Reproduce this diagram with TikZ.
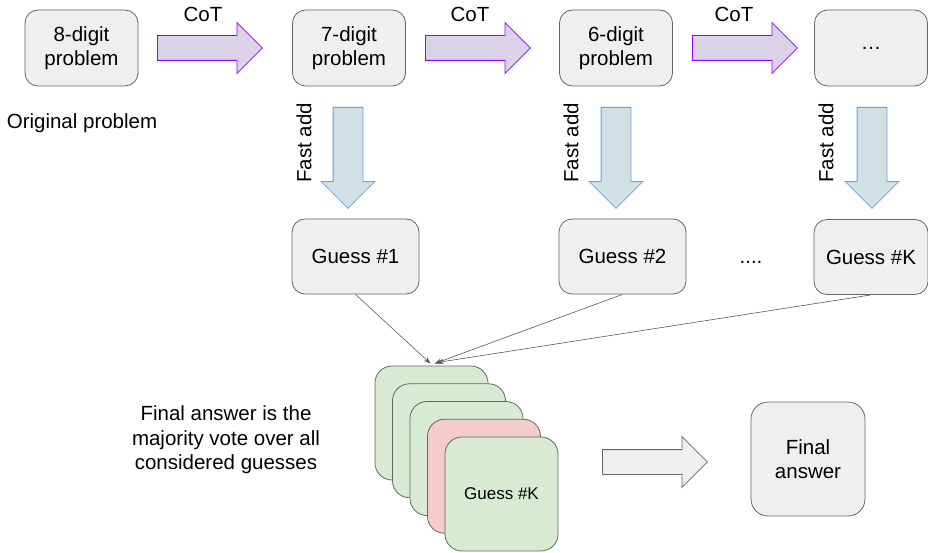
\documentclass[tikz,border=0pt]{standalone}
\usepackage{fontspec}
\setmainfont{Liberation Sans}
\usetikzlibrary{shapes.arrows,arrows.meta}

\definecolor{boxgray}{HTML}{EFEFEF}
\definecolor{edgegray}{HTML}{666666}
\definecolor{cotfill}{HTML}{D9D2E9}
\definecolor{cotedge}{HTML}{9900FF}
\definecolor{addfill}{HTML}{D0E0E3}
\definecolor{addedge}{HTML}{6D9EEB}
\definecolor{cardgreen}{HTML}{D9EAD3}
\definecolor{cardred}{HTML}{F4CCCC}
\definecolor{linegray}{HTML}{595959}

\begin{document}
\begin{tikzpicture}[
  x=1pt, y=-1pt,
  every node/.style={font=\fontsize{20.5}{24.5}\selectfont, text=black},
  probbox/.style={draw=edgegray, fill=boxgray, line width=0.8pt, rounded corners=13pt,
    minimum width=113pt, minimum height=76pt, align=center, inner sep=0pt},
  guessbox/.style={probbox, minimum width=127pt, minimum height=75pt},
  card/.style={draw=edgegray, fill=cardgreen, line width=0.8pt, rounded corners=17pt,
    minimum width=113pt, minimum height=114pt, inner sep=0pt},
  fatarrow/.style={single arrow, draw, line width=0.8pt, minimum height=105pt,
    inner xsep=0pt, inner ysep=12pt, single arrow head extend=13pt, anchor=tail},
  cotarrow/.style={fatarrow, fill=cotfill, draw=cotedge},
  addarrow/.style={fatarrow, fill=addfill, draw=addedge, rotate=-90,
    minimum height=101pt, inner ysep=14.5pt, single arrow head extend=12pt},
  vote/.style={draw=linegray, line width=0.6pt, -{Stealth[length=7pt,width=5pt]}}
]
\useasboundingbox (0,0) rectangle (928,553);

% problems along the chain of thought
\node[probbox] (p8) at (81.5,48) {8-digit\\problem};
\node[probbox] (p7) at (349,48) {7-digit\\problem};
\node[probbox] (p6) at (616,48) {6-digit\\problem};
\node[probbox] (pk) at (871,48) {\raisebox{-0.3ex}{\ldots}};
\node (orig) at (82,123) {Original problem};

\node[cotarrow] (cot1) at (157,48) {};
\node[cotarrow] (cot2) at (425,48) {};
\node[cotarrow] (cot3) at (692,48) {};
\node (cotl1) at (203,14) {CoT};
\node (cotl2) at (470,14) {CoT};
\node (cotl3) at (734,14) {CoT};

% fast add to guesses
\node[addarrow] (add1) at (348,107) {};
\node[addarrow] (add2) at (616,107) {};
\node[addarrow] (add3) at (872,107) {};
\node[rotate=90] (addl1) at (304,143) {Fast add};
\node[rotate=90] (addl2) at (571,143) {Fast add};
\node[rotate=90] (addl3) at (826,143) {Fast add};

\node[guessbox] (g1) at (355.5,256.5) {Guess \#1};
\node[guessbox] (g2) at (622.5,256.5) {Guess \#2};
\node[guessbox, minimum width=114pt] (gk) at (871,257) {Guess \#K};
\node (gdots) at (751,262) {....};

% stack of guesses
\foreach \i/\col in {0/cardgreen,1/cardgreen,2/cardgreen,3/cardred,4/cardgreen}
  \node[card, fill=\col] (c\i) at (431.5+17.5*\i,423+17.75*\i) {};
\node[font=\fontsize{17}{20}\selectfont] (ck) at (c4) {Guess \#K};

\draw[vote] (g1.south) -- ([xshift=-1pt,yshift=2pt]c0.north);
\draw[vote] (g2.south) -- ([xshift=3pt,yshift=2pt]c0.north);
\draw[vote] (gk.south) -- ([xshift=5pt,yshift=3pt]c0.north);

\node[align=center] (note) at (226,440) {Final answer is the\\majority vote over all\\considered guesses};

\node[fatarrow, fill=boxgray, draw=edgegray] (res) at (602,462) {};
\node[probbox, minimum width=114pt, minimum height=114pt, rounded corners=17pt] (final) at (808,459) {Final\\answer};
\end{tikzpicture}
\end{document}
